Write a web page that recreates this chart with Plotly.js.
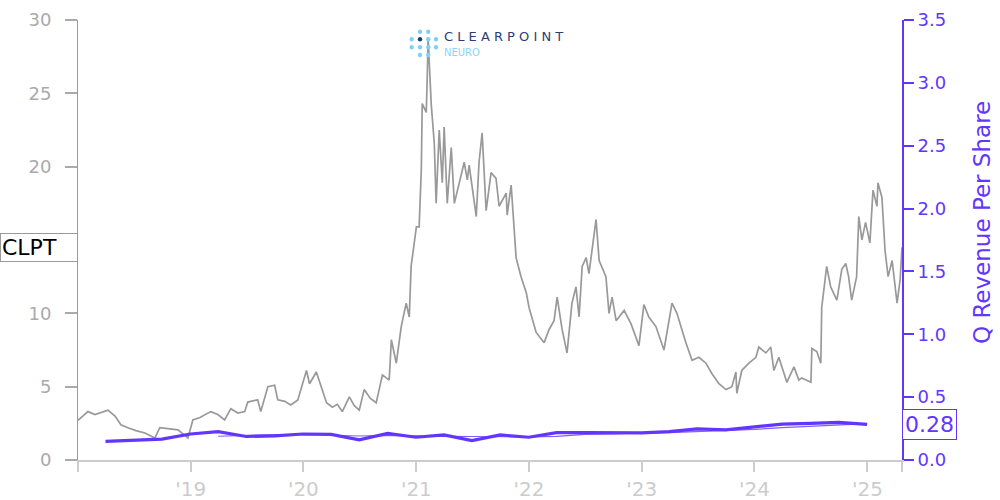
<!DOCTYPE html>
<html>
<head>
<meta charset="utf-8">
<script src="https://cdn.plot.ly/plotly-3.0.1.min.js"></script>
<style>html,body{margin:0;padding:0;background:#fff;}#chart{width:1000px;height:500px;}</style>
</head>
<body>
<div id="chart"></div>
<script>
const priceDates = ["2018-01-01","2018-02-02","2018-02-25","2018-04-08","2018-05-01","2018-05-20","2018-06-12","2018-07-08","2018-08-06","2018-09-07","2018-09-23","2018-10-26","2018-11-21","2018-12-23",
"2019-01-08","2019-01-31","2019-03-07","2019-03-30","2019-04-21","2019-05-11","2019-06-03","2019-06-25","2019-07-05","2019-08-06","2019-08-16","2019-09-08","2019-09-30","2019-10-10","2019-11-02","2019-11-21","2019-12-14",
"2020-01-11","2020-01-21","2020-02-12","2020-02-28","2020-03-16","2020-04-04","2020-04-20","2020-05-06","2020-05-29","2020-06-14","2020-06-30","2020-07-16","2020-08-05","2020-08-24","2020-09-13","2020-10-05","2020-10-12","2020-10-28","2020-11-13","2020-11-29","2020-12-09","2020-12-15",
"2021-01-01","2021-01-10","2021-01-17","2021-01-20","2021-02-02","2021-02-05","2021-02-08","2021-02-18","2021-02-28","2021-03-06","2021-03-16","2021-03-26","2021-04-01","2021-04-11","2021-04-24","2021-05-04","2021-05-20","2021-06-05","2021-06-15","2021-06-21","2021-07-14","2021-07-23","2021-08-02","2021-08-15","2021-08-31","2021-09-16","2021-09-26","2021-10-19","2021-10-22","2021-11-04","2021-11-20","2021-12-06","2021-12-23",
"2022-01-01","2022-01-24","2022-02-19","2022-03-07","2022-03-23","2022-04-02","2022-04-18","2022-05-04","2022-05-20","2022-06-02","2022-06-12","2022-06-22","2022-07-05","2022-07-14","2022-07-31","2022-08-06","2022-08-16","2022-09-07","2022-09-17","2022-09-27","2022-10-10","2022-11-05","2022-11-27","2022-12-23",
"2023-01-08","2023-01-24","2023-02-16","2023-03-14","2023-04-09","2023-04-25","2023-05-24","2023-06-13","2023-07-05","2023-07-28","2023-08-16","2023-09-08","2023-10-01","2023-10-20","2023-11-02","2023-11-05","2023-11-21","2023-12-14",
"2024-01-06","2024-01-15","2024-02-07","2024-02-23","2024-03-04","2024-03-20","2024-04-15","2024-05-08","2024-05-24","2024-06-02","2024-07-02","2024-07-05","2024-07-21","2024-08-03","2024-08-06","2024-08-19","2024-08-22","2024-09-04","2024-09-24","2024-10-10","2024-10-23","2024-11-01","2024-11-11","2024-11-27","2024-12-04","2024-12-14","2024-12-26",
"2025-01-09","2025-01-19","2025-02-01","2025-02-04","2025-02-17","2025-02-27","2025-03-09","2025-03-22","2025-04-07","2025-04-17","2025-04-23"];
const priceValues = [2.7,3.3,3.1,3.4,3.0,2.4,2.2,2.0,1.84,1.5,2.2,2.1,2.05,1.5,
2.73,2.9,3.3,3.1,2.73,3.5,3.2,3.3,3.95,4.1,3.3,5.0,5.1,4.1,4.0,3.75,4.1,
6.1,5.2,6.0,5.0,3.9,3.6,3.8,3.3,4.3,3.7,3.4,4.8,4.2,3.9,5.8,5.45,8.2,6.6,9.1,10.7,9.75,13.2,
15.9,15.9,19.8,24.3,23.7,25.9,28.8,24.3,21.6,17.5,22.5,18.9,22.7,17.5,21.3,17.5,18.9,20.3,19.1,20.1,16.6,20.3,22.3,17.0,19.6,19.2,17.3,18.2,16.7,18.75,13.8,12.5,11.4,
10.4,8.7,8.0,8.9,9.5,11.1,8.9,7.3,10.7,11.8,9.75,13.2,13.8,12.7,15.5,16.4,13.6,12.5,10.0,11.1,9.5,10.2,9.3,7.8,
10.6,9.75,9.1,7.5,10.7,10.0,8.0,6.8,7.0,6.6,5.9,5.2,4.8,5.0,6.0,4.55,6.1,6.6,
7.0,7.7,7.3,7.7,6.1,7.0,5.3,6.35,5.45,5.6,5.3,7.6,7.4,6.6,10.4,12.5,13.2,11.8,10.9,13.0,13.4,12.5,10.9,12.5,16.6,15.0,16.2,
14.8,18.4,17.3,18.9,17.9,14.3,12.5,13.6,10.7,12.3,14.5];

const qDates = ["2018-03-31","2018-06-30","2018-09-30","2018-12-31","2019-03-31","2019-06-30","2019-09-30","2019-12-31","2020-03-31","2020-06-30","2020-09-30","2020-12-31","2021-03-31","2021-06-30","2021-09-30","2021-12-31","2022-03-31","2022-06-30","2022-09-30","2022-12-31","2023-03-31","2023-06-30","2023-09-30","2023-12-31","2024-03-31","2024-06-30","2024-09-30","2024-12-31"];
const qRevenuePerShare = [0.148,0.157,0.166,0.207,0.226,0.187,0.192,0.207,0.204,0.160,0.212,0.181,0.199,0.155,0.199,0.181,0.217,0.217,0.213,0.215,0.225,0.247,0.240,0.260,0.286,0.292,0.300,0.284];
const avgDates = qDates.slice(4);
const avgRevenuePerShare = [0.189,0.197,0.203,0.203,0.198,0.191,0.196,0.189,0.188,0.187,0.184,0.184,0.188,0.204,0.207,0.216,0.218,0.225,0.232,0.243,0.258,0.269,0.284,0.290];

const xTickVals = ["2018-01-01","2019-01-01","2020-01-01","2021-01-01","2022-01-01","2023-01-01","2024-01-01","2025-01-01","2025-04-23"];
const xTickText = ["","'19","'20","'21","'22","'23","'24","'25",""];
const yTickVals = [0,5,10,20,25,30];
const ticker = "CLPT";
const lastPrice = 14.5;
const lastRev = 0.28;
const rightTitle = "Q Revenue Per Share";

const purple = "#6236FF";
const font = "DejaVu Sans, sans-serif";

const traces = [
  {x: priceDates, y: priceValues, type: "scatter", mode: "lines", line: {color: "#999999", width: 1.7}, yaxis: "y", hoverinfo: "skip"},
  {x: avgDates, y: avgRevenuePerShare, type: "scatter", mode: "lines", line: {color: purple, width: 1.2}, yaxis: "y2", opacity: 0.8, hoverinfo: "skip"},
  {x: qDates, y: qRevenuePerShare, type: "scatter", mode: "lines", line: {color: purple, width: 3.2}, yaxis: "y2", hoverinfo: "skip"}
];

function px(xp){ return (xp-78)/824; }
function py(yp){ return (460-yp)/440; }
const dotsX = [420,428.3, 411.7,420,428.3,436, 411.7,420,428.3,436, 420,428.3];
const dotsY = [31.7,31.7, 39.3,39.3,39.3,39.3, 47.3,47.3,47.3,47.3, 55,55];
const shapes = dotsX.map((dx,i)=>({
  type:"circle", xref:"paper", yref:"paper", xsizemode:"pixel", ysizemode:"pixel",
  xanchor: px(dx), yanchor: py(dotsY[i]), x0:-2.2, x1:2.2, y0:-2.2, y1:2.2,
  fillcolor: (i===3 ? "#1F3A7A" : "#7FD0F7"), line:{width:0}
}));

const layout = {
  width: 1000, height: 500,
  margin: {l: 78, r: 98, t: 20, b: 40, pad: 0},
  paper_bgcolor: "#fff", plot_bgcolor: "#fff",
  showlegend: false,
  font: {family: font, size: 18, color: "#aaaaaa"},
  xaxis: {
    type: "date", range: ["2018-01-01","2025-04-23"],
    tickmode: "array", tickvals: xTickVals, ticktext: xTickText,
    showgrid: false, zeroline: false,
    showline: true, linecolor: "#cccccc", linewidth: 2,
    ticks: "outside", ticklen: 10, tickwidth: 2, tickcolor: "#cccccc",
    ticklabelstandoff: 0,
    tickfont: {family: font, size: 20, color: "#cccccc"}
  },
  yaxis: {
    range: [0,30], tickmode: "array", tickvals: yTickVals, showgrid: false, zeroline: false,
    showline: true, linecolor: "#999999", linewidth: 1,
    ticks: "outside", ticklen: 12, tickwidth: 2, tickcolor: "#aaaaaa",
    ticklabelstandoff: 10,
    tickfont: {family: font, size: 18, color: "#aaaaaa"}
  },
  yaxis2: {
    overlaying: "y", side: "right", range: [0,3.5], dtick: 0.5, tickformat: ".1f",
    showgrid: false, zeroline: false,
    showline: true, linecolor: purple, linewidth: 2,
    ticks: "outside", ticklen: 10, tickwidth: 2, tickcolor: purple,
    tickfont: {family: font, size: 18, color: purple}
  },
  shapes: shapes,
  annotations: [
    {xref:"paper", yref:"paper", x: 1, xshift: 80, y: py(223), xanchor:"center", yanchor:"middle", textangle: -90,
     text: rightTitle, showarrow:false, font:{family: font, size: 23, color: purple}},
    {xref:"paper", yref:"y", x:0, y:lastPrice, xanchor:"right", yanchor:"middle", text: ticker, showarrow:false,
     font:{family: font, size: 22, color:"#000"}, bgcolor:"#fff", bordercolor:"#999999", borderwidth:1, borderpad:1, width:74, align:"left"},
    {xref:"paper", yref:"y2", x:1, y:lastRev, xanchor:"left", yanchor:"middle", text: lastRev.toFixed(2), showarrow:false,
     font:{family: font, size: 22, color: purple}, bgcolor:"#fff", bordercolor: purple, borderwidth:1, borderpad:2},
    {xref:"paper", yref:"paper", x: px(442), y: py(36), xanchor:"left", yanchor:"middle", text:"C L E A R P O I N T", showarrow:false,
     font:{family: font, size: 13, color:"#2B3D78"}},
    {xref:"paper", yref:"paper", x: px(442), y: py(52.5), xanchor:"left", yanchor:"middle", text:"NEURO", showarrow:false,
     font:{family: font, size: 10, color:"#8FD3F5"}}
  ]
};

Plotly.newPlot("chart", traces, layout, {displayModeBar: false, staticPlot: true});
</script>
</body>
</html>
